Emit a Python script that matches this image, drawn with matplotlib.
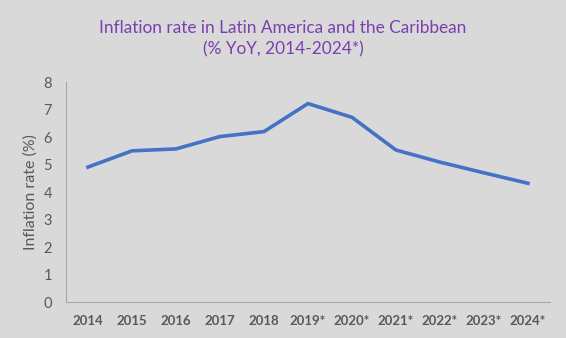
import matplotlib.pyplot as plt

plt.rcParams['font.family'] = ['Lato', 'DejaVu Sans']

years = ['2014', '2015', '2016', '2017', '2018', '2019*', '2020*',
         '2021*', '2022*', '2023*', '2024*']
inflation = [4.91, 5.5, 5.57, 6.02, 6.2, 7.22, 6.72, 5.53, 5.09, 4.7, 4.32]

bg = '#d9d9d9'
fig = plt.figure(figsize=(5.66, 3.38), dpi=100, facecolor=bg)
ax = fig.add_axes([0.1166, 0.1065, 0.855, 0.6505], facecolor=bg)

ax.plot(range(len(years)), inflation, color='#4472c4', linewidth=2.6,
        solid_joinstyle='miter')

ax.set_xlim(-0.5, len(years) - 0.5)
ax.set_ylim(0, 8)
ax.set_yticks(range(0, 9))
ax.set_xticks(range(len(years)))
ax.set_xticklabels(years, fontweight='bold')
ax.tick_params(axis='both', length=0, colors='#595959')
ax.tick_params(axis='x', pad=9, labelsize=9.5)
ax.tick_params(axis='y', pad=10, labelsize=10.5)

for side in ['top', 'right']:
    ax.spines[side].set_visible(False)
for side in ['left', 'bottom']:
    ax.spines[side].set_color('#a6a6a6')
    ax.spines[side].set_linewidth(0.8)

ax.set_ylabel('Inflation rate (%)', color='#595959', fontsize=11.5, labelpad=4)

fig.text(0.5, 0.886, 'Inflation rate in Latin America and the Caribbean\n(% YoY, 2014-2024*)',
         ha='center', va='center', color='#7b3fb0', fontsize=12.4, linespacing=1.45)

fig.savefig('out.png', dpi=100, facecolor=bg)
